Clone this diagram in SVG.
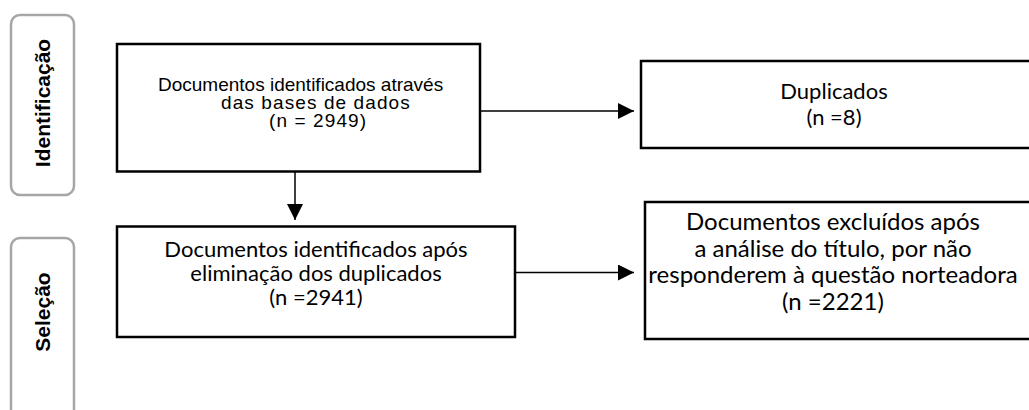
<svg xmlns="http://www.w3.org/2000/svg" width="1029" height="410" viewBox="0 0 1029 410">
<defs>
<marker id="ah" viewBox="0 0 10 10" refX="10" refY="5" markerWidth="16" markerHeight="16" markerUnits="userSpaceOnUse" orient="auto"><path d="M0,0 L10,5 L0,10 Z" fill="#000"/></marker>
<style>
.lbl{fill:#fff;stroke:#a6a6a6;stroke-width:2.5}
.box{fill:#fff;stroke:#000;stroke-width:2.5}
.ar{font-family:"Liberation Sans",Arial,sans-serif;font-size:19px;fill:#000}
.wide{letter-spacing:1.1px}
.ca{font-family:Lato,"Open Sans",sans-serif;fill:#000;text-anchor:middle}
.s22{font-size:22px}
.s24{font-size:24px}
.side{font-family:"Liberation Sans",Arial,sans-serif;font-size:21px;font-weight:bold;fill:#000;text-anchor:middle}
.ln{stroke:#000;stroke-width:1.5;fill:none}
</style>
</defs>
<rect width="1029" height="410" fill="#fff"/>
<g id="stage-identificacao">
<rect class="lbl" x="11" y="15" width="63" height="180" rx="9"/>
<text class="side" transform="translate(50,103) rotate(-90)">Identificação</text>
</g>
<g id="stage-selecao">
<rect class="lbl" x="11" y="238" width="63" height="200" rx="9"/>
<text class="side" transform="translate(50,312) rotate(-90)">Seleção</text>
</g>
<g id="n1">
<rect class="box" x="117" y="44" width="363" height="127.5"/>
<text class="ar" x="158" y="91">Documentos identificados através</text>
<text class="ar wide" x="221" y="109">das bases de dados</text>
<text class="ar wide" x="269" y="127">(n = 2949)</text>
</g>
<g id="n2">
<rect class="box" x="641" y="61" width="400" height="87"/>
<text class="ca s22" x="834" y="99">Duplicados</text>
<text class="ca s22" x="834" y="125">(n =8)</text>
</g>
<g id="n3">
<rect class="box" x="117" y="226.5" width="398" height="110.5"/>
<text class="ca s22" x="316" y="257">Documentos identificados após</text>
<text class="ca s22" x="316" y="281">eliminação dos duplicados</text>
<text class="ca s22" x="316" y="305">(n =2941)</text>
</g>
<g id="n4">
<rect class="box" x="645" y="202" width="400" height="137"/>
<text class="ca s24" x="833" y="230">Documentos excluídos após</text>
<text class="ca s24" x="833" y="256.5">a análise do título, por não</text>
<text class="ca s24" x="833" y="283">responderem à questão norteadora</text>
<text class="ca s24" x="833" y="309.5">(n =2221)</text>
</g>
<g id="connectors">
<line class="ln" x1="480" y1="111" x2="634" y2="111" marker-end="url(#ah)"/>
<line class="ln" x1="295" y1="171.5" x2="295" y2="220" marker-end="url(#ah)"/>
<line class="ln" x1="515" y1="272.5" x2="634" y2="272.5" marker-end="url(#ah)"/>
</g>
</svg>
